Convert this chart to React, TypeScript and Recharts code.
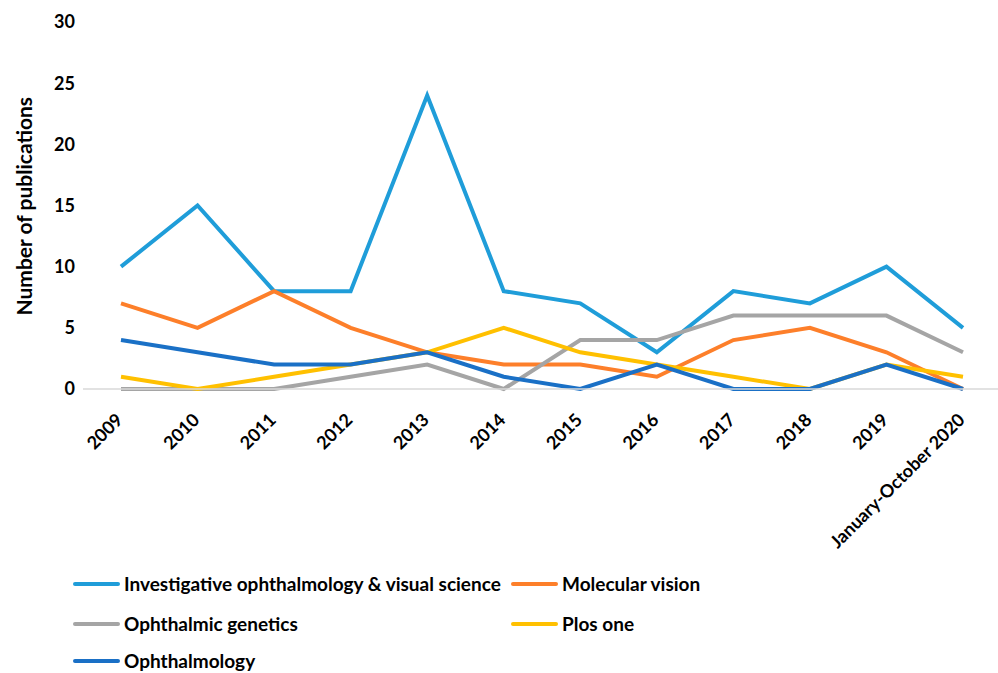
import { LineChart, Line, XAxis, YAxis, Legend } from "recharts";

const years = [
  "2009",
  "2010",
  "2011",
  "2012",
  "2013",
  "2014",
  "2015",
  "2016",
  "2017",
  "2018",
  "2019",
  "January-October 2020",
];

const iovs = [10, 15, 8, 8, 24, 8, 7, 3, 8, 7, 10, 5];
const molecularVision = [7, 5, 8, 5, 3, 2, 2, 1, 4, 5, 3, 0];
const ophthalmicGenetics = [0, 0, 0, 1, 2, 0, 4, 4, 6, 6, 6, 3];
const plosOne = [1, 0, 1, 2, 3, 5, 3, 2, 1, 0, 2, 1];
const ophthalmology = [4, 3, 2, 2, 3, 1, 0, 2, 0, 0, 2, 0];

const yTicks = [0, 5, 10, 15, 20, 25, 30];

const series = [
  { key: "iovs", name: "Investigative ophthalmology & visual science", color: "#1f9dd9" },
  { key: "mv", name: "Molecular vision", color: "#fd7f2a" },
  { key: "og", name: "Ophthalmic genetics", color: "#a5a5a5" },
  { key: "plos", name: "Plos one", color: "#ffc000" },
  { key: "oph", name: "Ophthalmology", color: "#1a70c6" },
];

const data = years.map((year, i) => ({
  year,
  iovs: iovs[i],
  mv: molecularVision[i],
  og: ophthalmicGenetics[i],
  plos: plosOne[i],
  oph: ophthalmology[i],
}));

const font = "Lato, 'Open Sans', sans-serif";

const XTick = (props: any) => {
  const { x, y, payload } = props;
  return (
    <g transform={`translate(${x + 3},${y + 24})`}>
      <text
        transform="rotate(-45)"
        textAnchor="end"
        fontSize={18}
        fontWeight={700}
        fill="#000"
        fontFamily={font}
      >
        {payload.value}
      </text>
    </g>
  );
};

// legend laid out like the Excel original: two columns, three rows
const legendPos = [
  { left: 73, top: 9 },
  { left: 511, top: 9 },
  { left: 73, top: 49 },
  { left: 511, top: 49 },
  { left: 73, top: 86 },
];

const LegendBox = () => (
  <div style={{ position: "relative", width: 998, height: 110, fontFamily: font }}>
    {series.map((s, i) => (
      <div
        key={s.key}
        style={{
          position: "absolute",
          left: legendPos[i].left,
          top: legendPos[i].top,
          display: "flex",
          alignItems: "center",
          fontSize: 19,
          lineHeight: "24px",
          fontWeight: 700,
          color: "#000",
          whiteSpace: "nowrap",
        }}
      >
        <span
          style={{
            display: "inline-block",
            width: 47,
            height: 4,
            borderRadius: 2,
            background: s.color,
            marginRight: 4,
          }}
        />
        {s.name}
      </div>
    ))}
  </div>
);

const App = () => {
  return (
    <div style={{ position: "absolute", left: 0, top: 0, width: 998, height: 673, background: "#fff" }}>
      <LineChart
        width={998}
        height={673}
        data={data}
        margin={{ top: 22, right: -3, left: 0, bottom: 0 }}
      >
        <XAxis
          dataKey="year"
          interval={0}
          height={174}
          padding={{ left: 38, right: 38 }}
          axisLine={{ stroke: "#d9d9d9", strokeWidth: 1.5 }}
          tickLine={false}
          tick={<XTick />}
        />
        <YAxis
          domain={[0, 30]}
          ticks={yTicks}
          width={83}
          axisLine={false}
          tickLine={false}
          tick={{ fontSize: 18, fontWeight: 700, fill: "#000", fontFamily: font }}
          label={{
            value: "Number of publications",
            angle: -90,
            position: "insideLeft",
            dx: 20,
            dy: 110,
            style: { fontSize: 21, fontWeight: 700, fill: "#000", fontFamily: font },
          }}
        />
        <Legend verticalAlign="bottom" height={110} content={<LegendBox />} />
        {series.map((s) => (
          <Line
            key={s.key}
            type="linear"
            dataKey={s.key}
            name={s.name}
            stroke={s.color}
            strokeWidth={4}
            dot={false}
            activeDot={false}
            isAnimationActive={false}
          />
        ))}
      </LineChart>
    </div>
  );
};

export default App;
